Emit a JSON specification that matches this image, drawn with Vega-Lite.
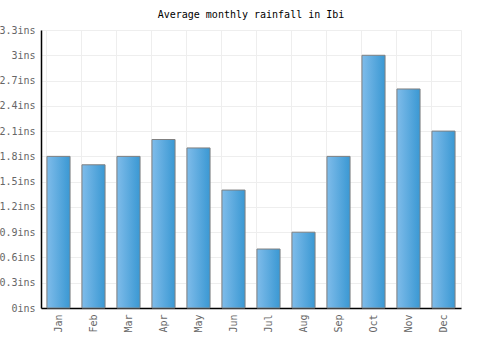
{
  "$schema": "https://vega.github.io/schema/vega-lite/v6.json",
  "width": 420,
  "height": 278,
  "autosize": {"type": "none"},
  "padding": {"left": 41, "top": 30, "right": 39, "bottom": 42},
  "background": "white",
  "title": {
    "text": "Average monthly rainfall in Ibi",
    "font": "DejaVu Sans Mono",
    "fontSize": 10,
    "fontWeight": "normal",
    "color": "#000",
    "anchor": "middle",
    "offset": 5
  },
  "config": {"view": {"stroke": "#eeeeee"}},
  "data": {
    "values": [
      {"month": "Jan", "rain": 1.8},
      {"month": "Feb", "rain": 1.7},
      {"month": "Mar", "rain": 1.8},
      {"month": "Apr", "rain": 2.0},
      {"month": "May", "rain": 1.9},
      {"month": "Jun", "rain": 1.4},
      {"month": "Jul", "rain": 0.7},
      {"month": "Aug", "rain": 0.9},
      {"month": "Sep", "rain": 1.8},
      {"month": "Oct", "rain": 3.0},
      {"month": "Nov", "rain": 2.6},
      {"month": "Dec", "rain": 2.1}
    ]
  },
  "mark": {
    "type": "bar",
    "stroke": "#808080",
    "strokeWidth": 1,
    "color": {
      "gradient": "linear",
      "x1": 0, "y1": 0, "x2": 1, "y2": 0,
      "stops": [
        {"offset": 0, "color": "#7fbcea"},
        {"offset": 1, "color": "#3a98d3"}
      ]
    }
  },
  "encoding": {
    "x": {
      "field": "month",
      "type": "nominal",
      "sort": null,
      "scale": {"paddingInner": 0.34, "paddingOuter": 0.17},
      "axis": {
        "title": null,
        "labelAngle": -90,
        "labelFont": "DejaVu Sans Mono",
        "labelFontSize": 10,
        "labelColor": "#666",
        "labelPadding": 6,
        "ticks": false,
        "domainColor": "#000",
        "domainWidth": 1.5,
        "grid": true,
        "gridColor": "#eeeeee",
        "bandPosition": 0
      }
    },
    "y": {
      "field": "rain",
      "type": "quantitative",
      "scale": {"domain": [0, 3.3], "nice": false},
      "axis": {
        "title": null,
        "values": [0, 0.3, 0.6, 0.9, 1.2, 1.5, 1.8, 2.1, 2.4, 2.7, 3.0, 3.3],
        "labelExpr": "format(datum.value, '.1~f') + 'ins'",
        "labelFont": "DejaVu Sans Mono",
        "labelFontSize": 10,
        "labelColor": "#666",
        "labelPadding": 6,
        "ticks": false,
        "domainColor": "#000",
        "domainWidth": 1.5,
        "grid": true,
        "gridColor": "#eeeeee"
      }
    }
  }
}
